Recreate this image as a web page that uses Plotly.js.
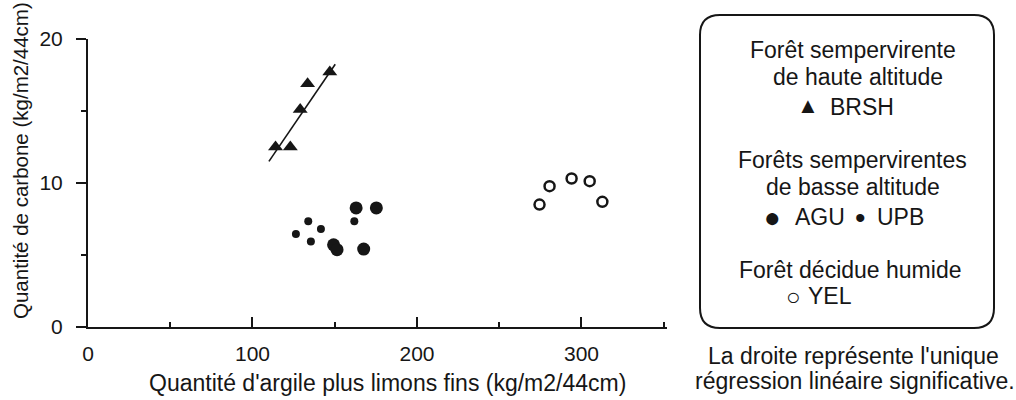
<!DOCTYPE html>
<html>
<head>
<meta charset="utf-8">
<script src="https://cdn.plot.ly/plotly-3.0.1.min.js"></script>
<style>
  html, body { margin: 0; padding: 0; background: #ffffff; }
  #chart { width: 1016px; height: 400px; }
</style>
</head>
<body>
<div id="chart"></div>
<script>
// ---- Data ----
// Forêt sempervirente de haute altitude (BRSH) – triangles
const brshX = [114, 123, 129, 133.5, 147];
const brshY = [12.5, 12.5, 15.1, 16.9, 17.7];
// Forêts sempervirentes de basse altitude – AGU (large dots)
const aguX = [163, 175.3, 149.3, 151.4, 167.6];
const aguY = [8.27, 8.27, 5.71, 5.37, 5.41];
// Forêts sempervirentes de basse altitude – UPB (small dots)
const upbX = [133.9, 126.4, 135.5, 141.6, 161.9];
const upbY = [7.34, 6.46, 5.94, 6.81, 7.34];
// Forêt décidue humide – YEL (open circles)
const yelX = [274.5, 280.6, 294, 305, 312.7];
const yelY = [8.5, 9.78, 10.31, 10.13, 8.69];
// Significant linear regression line (end points)
const fitX = [110, 150.3];
const fitY = [11.5, 18.25];

// Text
const xTitle = "Quantité d'argile plus limons fins (kg/m2/44cm)";
const yTitle = "Quantité de carbone (kg/m2/44cm)";
const legendLines = [
  "Forêt sempervirente", "de haute altitude",
  "Forêts sempervirentes", "de basse altitude",
  "Forêt décidue humide"
];
const seriesNames = ["BRSH", "AGU", "UPB", "YEL"];
const noteLines = ["La droite représente l'unique", "régression linéaire significative."];

// ---- Layout geometry (pixels) ----
const W = 1016, H = 400;
const L = 88, R = 667, T = 39, B = 327;
const px = v => (v - L) / (R - L);
const py = v => (B - v) / (B - T);

const INK = '#161616';
const FONT = '"Liberation Sans", Arial, Helvetica, sans-serif';

const traces = [
  { x: fitX, y: fitY, mode: 'lines', line: { color: INK, width: 1.6 }, hoverinfo: 'skip', showlegend: false },
  { x: brshX, y: brshY, name: seriesNames[0], mode: 'markers',
    marker: { symbol: 'triangle-up', size: 13, color: INK }, showlegend: false },
  { x: aguX, y: aguY, name: seriesNames[1], mode: 'markers',
    marker: { symbol: 'circle', size: 13, color: INK }, showlegend: false },
  { x: upbX, y: upbY, name: seriesNames[2], mode: 'markers',
    marker: { symbol: 'circle', size: 8, color: INK }, showlegend: false },
  { x: yelX, y: yelY, name: seriesNames[3], mode: 'markers',
    marker: { symbol: 'circle-open', size: 10, color: INK, line: { width: 2.5, color: INK } }, showlegend: false }
];

function ann(text, x, y, size, xanchor, extra) {
  return Object.assign({
    text: text, xref: 'paper', yref: 'paper', x: px(x), y: py(y),
    xanchor: xanchor || 'center', yanchor: 'middle', showarrow: false,
    font: { family: FONT, size: size, color: INK }
  }, extra || {});
}

const annotations = [
  ann(legendLines[0], 853, 50, 23),
  ann(legendLines[1], 858, 77, 23),
  ann('▲', 808, 106, 22),
  ann(seriesNames[0], 828, 107, 23, 'left'),
  ann(legendLines[2], 852, 160, 23),
  ann(legendLines[3], 853, 187, 23),
  ann('●', 772, 217, 28),
  ann(seriesNames[1], 793, 217, 23, 'left'),
  ann('•', 860, 217, 30),
  ann(seriesNames[2], 875, 217, 23, 'left'),
  ann(legendLines[4], 850, 270, 23),
  ann('○', 793, 296, 24),
  ann(seriesNames[3], 806, 296, 23, 'left'),
  ann(noteLines[0], 854, 356, 23),
  ann(noteLines[1], 855, 381, 23),
  ann(xTitle, 387, 383, 23),
  ann(yTitle, 20, 161, 20.5, 'center', { textangle: -90 })
];

// rounded legend frame
const bx0 = 700, bx1 = 994, by0 = 15, by1 = 328, rr = 20;
const P = (x, y) => px(x) + ',' + py(y);
const framePath =
  'M' + P(bx0 + rr, by0) + ' L' + P(bx1 - rr, by0) +
  ' Q' + P(bx1, by0) + ' ' + P(bx1, by0 + rr) +
  ' L' + P(bx1, by1 - rr) +
  ' Q' + P(bx1, by1) + ' ' + P(bx1 - rr, by1) +
  ' L' + P(bx0 + rr, by1) +
  ' Q' + P(bx0, by1) + ' ' + P(bx0, by1 - rr) +
  ' L' + P(bx0, by0 + rr) +
  ' Q' + P(bx0, by0) + ' ' + P(bx0 + rr, by0) + ' Z';

const layout = {
  width: W, height: H,
  margin: { l: L, r: W - R, t: T, b: H - B, pad: 0 },
  paper_bgcolor: '#ffffff', plot_bgcolor: '#ffffff',
  font: { family: FONT, color: INK },
  showlegend: false,
  xaxis: {
    range: [0, 352], tick0: 0, dtick: 100, ticks: 'inside', ticklen: 10, tickwidth: 2,
    tickcolor: INK, showline: true, linewidth: 2, linecolor: INK,
    showgrid: false, zeroline: false, tickfont: { family: FONT, size: 21, color: INK },
    ticklabelstandoff: 7,
    minor: { dtick: 50, tick0: 0, ticks: 'inside', ticklen: 5, tickwidth: 2, tickcolor: INK, showgrid: false }
  },
  yaxis: {
    range: [0, 20], tick0: 0, dtick: 10, ticks: 'outside', ticklen: 10, tickwidth: 2,
    tickcolor: INK, showline: true, linewidth: 2, linecolor: INK,
    showgrid: false, zeroline: false, tickfont: { family: FONT, size: 21, color: INK },
    ticklabelstandoff: 9,
    minor: { dtick: 5, tick0: 0, ticks: 'outside', ticklen: 5, tickwidth: 2, tickcolor: INK, showgrid: false }
  },
  shapes: [
    { type: 'path', xref: 'paper', yref: 'paper', path: framePath,
      line: { color: INK, width: 2 }, fillcolor: 'rgba(0,0,0,0)' }
  ],
  annotations: annotations
};

Plotly.newPlot('chart', traces, layout, { staticPlot: true, displayModeBar: false });
</script>
</body>
</html>
